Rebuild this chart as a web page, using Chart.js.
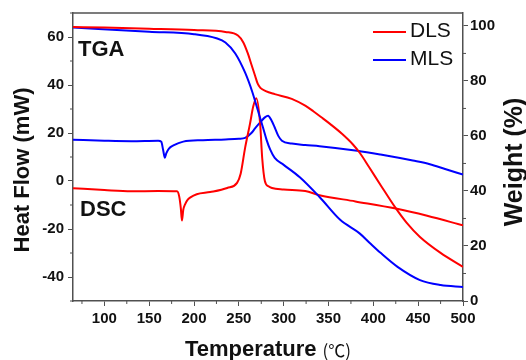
<!DOCTYPE html>
<html>
<head>
<meta charset="utf-8">
<script src="https://cdn.jsdelivr.net/npm/chart.js@4/dist/chart.umd.min.js"></script>
<style>
  html, body { margin: 0; padding: 0; background: #fff; }
  #wrap { width: 526px; height: 360px; }
</style>
</head>
<body>
<div id="wrap"><canvas id="chart" width="526" height="360"></canvas></div>
<script>
// TGA / DSC curves for DLS and MLS

// Tick labels
const xTicks = [100, 150, 200, 250, 300, 350, 400, 450, 500];
const heatTicks = [-40, -20, 0, 20, 40, 60];
const weightTicks = [0, 20, 40, 60, 80, 100];

// TGA, DLS (weight %)
const dlsTgaTemp = [65, 100, 150, 200, 235, 249, 255, 260, 264, 268, 271, 274, 280, 290, 309, 324, 333, 344, 352, 365, 377, 385, 395, 408, 424, 437, 452, 475, 500];
const dlsTgaWeight = [99.6, 99.4, 99, 98.5, 97.8, 96.5, 94, 90, 86, 82, 79, 77.5, 76.3, 75.2, 73.5, 71, 69, 66.3, 64.3, 60.8, 57, 53.8, 48.8, 42.2, 34.2, 28.5, 23.3, 17.5, 12.4];

// TGA, MLS (weight %)
const mlsTgaTemp = [65, 150, 200, 225, 235, 246, 257, 265, 271, 277, 281, 285, 290, 300, 318, 340, 363, 385, 396, 408, 427, 452, 475, 500];
const mlsTgaWeight = [99.4, 97.9, 97, 95.5, 94, 90, 83, 76, 69.5, 63, 58.5, 55, 52, 49.5, 45, 37.8, 29.5, 24.5, 21.1, 17.5, 12.4, 7.6, 5.8, 5.1];

// DSC, DLS (heat flow mW)
const dlsDscTemp = [65, 100, 130, 160, 181, 183.5, 185.3, 186.5, 188, 190, 193, 196, 203, 218, 237, 248, 252, 257, 262.5, 266, 269.5, 273.7, 276, 279, 283, 287, 300, 324, 340, 380, 425, 460, 500];
const dlsDscHeat = [-3, -3.8, -4.3, -4.2, -4.3, -6.5, -11.5, -16.5, -12, -9.7, -7.8, -6.8, -5.5, -4.6, -2.9, -0.8, 3, 13.9, 24, 31, 34.5, 24, 9.7, 0, -2.2, -2.9, -3.5, -4.2, -5.9, -8.5, -11.5, -14.5, -18.5];

// DSC, MLS (heat flow mW)
const mlsDscTemp = [65, 100, 130, 160, 163.5, 165.5, 167.5, 169, 172, 177, 188, 210, 235, 250, 257, 264, 268, 274, 279, 282.6, 286, 290, 294, 298, 309, 324, 340, 382, 408, 444, 463, 480, 500];
const mlsDscHeat = [17.2, 16.8, 16.6, 16.8, 16.4, 13, 9.7, 11.5, 13.5, 14.8, 16.4, 17, 17.3, 17.6, 18, 20, 21.9, 24.5, 26.5, 27.2, 25.5, 22.3, 18.8, 16.8, 15.6, 15, 14.5, 12.6, 11, 8.5, 7, 5, 2.7];

const RED = "#ff0000";
const BLUE = "#0000ff";
const AXIS = "#505050";
const FONT = "'Liberation Sans', Arial, sans-serif";

function toPoints(xs, ys) {
    return xs.map((x, i) => ({ x: x, y: ys[i] }));
}

function lineSet(label, xs, ys, color, axis) {
    return {
        label: label,
        data: toPoints(xs, ys),
        yAxisID: axis,
        borderColor: color,
        backgroundColor: color,
        borderWidth: 2,
        pointRadius: 0,
        fill: false,
        cubicInterpolationMode: "monotone"
    };
}

// minor ticks, frame top, labels, legend and axis titles
const decorations = {
    id: "decorations",
    afterDraw(chart) {
        const ctx = chart.ctx;
        const area = chart.chartArea;
        const sx = chart.scales.x;
        const sl = chart.scales.yHeat;
        const sr = chart.scales.yWeight;
        ctx.save();

        // top frame line
        ctx.strokeStyle = AXIS;
        ctx.lineWidth = 1.5;
        ctx.beginPath();
        ctx.moveTo(area.left, area.top);
        ctx.lineTo(area.right, area.top);
        ctx.stroke();

        // minor ticks
        ctx.lineWidth = 1;
        const minor = (scale, values, draw) => {
            const step = values[1] - values[0];
            for (let v = values[0] - step / 2; v <= scale.max; v += step) {
                if (v >= scale.min) draw(scale.getPixelForValue(v));
            }
        };
        ctx.beginPath();
        minor(sx, xTicks, p => { ctx.moveTo(p, area.bottom); ctx.lineTo(p, area.bottom + 3); });
        minor(sl, heatTicks, p => { ctx.moveTo(area.left, p); ctx.lineTo(area.left - 3, p); });
        minor(sr, weightTicks, p => { ctx.moveTo(area.right, p); ctx.lineTo(area.right + 3, p); });
        ctx.stroke();

        // labels in plot
        ctx.fillStyle = "#111";
        ctx.textBaseline = "middle";
        ctx.textAlign = "left";
        ctx.font = "bold 22px " + FONT;
        ctx.fillText("TGA", area.left + 5, 50);
        ctx.fillText("DSC", area.left + 7, 210);

        // legend
        const legend = [["DLS", RED, 31], ["MLS", BLUE, 59]];
        ctx.font = "21px " + FONT;
        legend.forEach(([text, color, y]) => {
            ctx.strokeStyle = color;
            ctx.lineWidth = 2;
            ctx.beginPath();
            ctx.moveTo(area.right - 90, y + 1);
            ctx.lineTo(area.right - 57, y + 1);
            ctx.stroke();
            ctx.fillStyle = "#111";
            ctx.fillText(text, area.right - 53, y);
        });

        // axis titles
        ctx.fillStyle = "#111";
        ctx.textAlign = "center";
        ctx.save();
        ctx.font = "bold 22px " + FONT;
        ctx.translate(23, 170);
        ctx.rotate(-Math.PI / 2);
        ctx.fillText("Heat Flow (mW)", 0, 0);
        ctx.restore();
        ctx.save();
        ctx.font = "bold 25px " + FONT;
        ctx.translate(515, 162);
        ctx.rotate(-Math.PI / 2);
        ctx.fillText("Weight (%)", 0, 0);
        ctx.restore();

        ctx.textBaseline = "alphabetic";
        ctx.textAlign = "left";
        const main = "Temperature";
        const unit = "(℃)";
        ctx.font = "bold 22px " + FONT;
        const w1 = ctx.measureText(main).width;
        ctx.font = "17px 'Noto Sans CJK SC', " + FONT;
        const w2 = ctx.measureText(unit).width;
        const gap = 6;
        const start = (area.left + area.right) / 2 - (w1 + gap + w2) / 2;
        ctx.font = "bold 22px " + FONT;
        ctx.fillText(main, start, 356);
        ctx.font = "17px 'Noto Sans CJK SC', " + FONT;
        ctx.fillText(unit, start + w1 + gap, 357);

        ctx.restore();
    }
};

const tickFont = { family: FONT, size: 15, weight: "bold" };

new Chart(document.getElementById("chart"), {
    type: "line",
    data: {
        datasets: [
            lineSet("DLS", dlsTgaTemp, dlsTgaWeight, RED, "yWeight"),
            lineSet("MLS", mlsTgaTemp, mlsTgaWeight, BLUE, "yWeight"),
            lineSet("DLS DSC", dlsDscTemp, dlsDscHeat, RED, "yHeat"),
            lineSet("MLS DSC", mlsDscTemp, mlsDscHeat, BLUE, "yHeat")
        ]
    },
    options: {
        responsive: false,
        animation: false,
        layout: { padding: { top: 13, left: 0, right: 0, bottom: 0 } },
        plugins: {
            legend: { display: false },
            tooltip: { enabled: false }
        },
        scales: {
            x: {
                type: "linear",
                min: 65,
                max: 500,
                afterBuildTicks: scale => { scale.ticks = xTicks.map(v => ({ value: v })); },
                afterFit: scale => { scale.height = 59; },
                ticks: { font: tickFont, color: "#111", autoSkip: false, maxRotation: 0, padding: 4 },
                grid: { drawOnChartArea: false, tickLength: 5, tickColor: AXIS, tickWidth: 1 },
                border: { color: AXIS, width: 1.5 }
            },
            yHeat: {
                type: "linear",
                position: "left",
                min: -50,
                max: 70,
                afterBuildTicks: scale => { scale.ticks = heatTicks.map(v => ({ value: v })); },
                afterFit: scale => { scale.width = 73; },
                ticks: { font: tickFont, color: "#111", padding: 4 },
                grid: { drawOnChartArea: false, tickLength: 5, tickColor: AXIS, tickWidth: 1 },
                border: { color: AXIS, width: 1.5 }
            },
            yWeight: {
                type: "linear",
                position: "right",
                min: 0,
                max: 104.7,
                afterBuildTicks: scale => { scale.ticks = weightTicks.map(v => ({ value: v })); },
                afterFit: scale => { scale.width = 63; },
                ticks: { font: tickFont, color: "#111", padding: 2 },
                grid: { drawOnChartArea: false, tickLength: 5, tickColor: AXIS, tickWidth: 1 },
                border: { color: AXIS, width: 1.5 }
            }
        }
    },
    plugins: [decorations]
});
</script>
</body>
</html>
